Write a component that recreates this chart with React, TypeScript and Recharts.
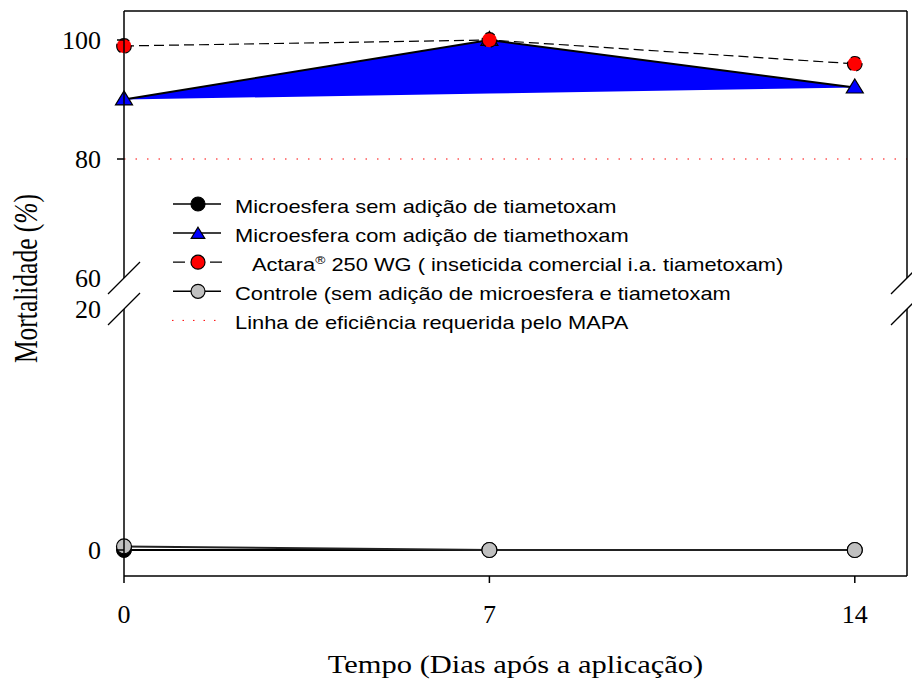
import React from 'react';
import { ComposedChart, Line, Area, XAxis, YAxis, ReferenceLine, Legend } from 'recharts';

// dados (mortalidade %, dias após aplicação)
const dias = [0, 7, 14];
const semAdicao = [0, 0, 0];
const comAdicao = [90, 100, 92];
const actara = [99, 100, 96];
const controle = [0.3, 0, 0];
const baseAzul = [90, 91, 92]; // borda de baixo do preenchimento azul
const linhaMapa = 80;

const xTicks = [0, 7, 14];
const yTicks = [0, 20, 60, 80, 100];
const yTicksComTraco = [0, 80, 100];

// eixo y quebrado: 0-20 embaixo, 60-105 em cima
const K_BAIXO = 12.05;
const K_CIMA = 5.95;
const U_60 = 272;
const toU = (v: number) => (v <= 20 ? v * K_BAIXO : U_60 + (v - 60) * K_CIMA);
const Y_MIN = -26;
const Y_MAX = 539;

const W = 912;
const H = 684;
const LEFT = 124;
const RIGHT = 907;
const TOP = 11;
const BOTTOM = 576;
const yPx = (v: number) => TOP + ((Y_MAX - toU(v)) * (BOTTOM - TOP)) / (Y_MAX - Y_MIN);

const table = dias.map((dia, i) => ({
  dia,
  sem: toU(semAdicao[i]),
  com: toU(comAdicao[i]),
  act: toU(actara[i]),
  ctrl: toU(controle[i]),
  faixa: [toU(baseAzul[i]), toU(comAdicao[i])],
}));

const SERIF = '"Liberation Serif", "Times New Roman", serif';
const SANS = '"Liberation Sans", Arial, sans-serif';

const triangulo = (cx: number, cy: number, s = 1) =>
  `${cx},${cy - 8.6 * s} ${cx + 8.5 * s},${cy + 5.4 * s} ${cx - 8.5 * s},${cy + 5.4 * s}`;

const renderTriangulo = (props: any) => (
  <polygon
    key={`tri-${props.index}`}
    points={triangulo(props.cx, props.cy)}
    fill="#0000ff"
    stroke="#000"
    strokeWidth={1.2}
  />
);

const YTick = (props: any) => {
  const { y, payload } = props;
  const v = yTicks.find((t) => Math.abs(toU(t) - payload.value) < 0.01) ?? 0;
  return (
    <g>
      {yTicksComTraco.includes(v) && <line x1={LEFT - 7} x2={LEFT} y1={y} y2={y} stroke="#000" strokeWidth={1.5} />}
      <text x={LEFT - 23} y={y} dy="0.355em" textAnchor="end" fontSize={26} fontFamily={SERIF} fill="#000">
        {v}
      </text>
    </g>
  );
};

const TituloX = (props: any) => {
  const vb = props.viewBox;
  return (
    <text
      transform={`translate(${vb.x + vb.width / 2}, 673) scale(1.22, 1)`}
      textAnchor="middle"
      fontSize={25}
      fontFamily={SERIF}
      fill="#000"
    >
      Tempo (Dias após a aplicação)
    </text>
  );
};

const TituloY = () => (
  <text
    transform={`translate(37, ${(TOP + BOTTOM) / 2 - 15}) rotate(-90) scale(1, 1.35)`}
    textAnchor="middle"
    fontSize={25.5}
    fontFamily={SERIF}
    fill="#000"
  >
    Mortalidade (<tspan fontStyle="italic">%</tspan>)
  </text>
);

const legendItems = [
  { label: 'Microesfera sem adição de tiametoxam', tipo: 'circulo', fill: '#000' },
  { label: 'Microesfera com adição de tiamethoxam', tipo: 'triangulo', fill: '#0000ff' },
  { label: 'Actara', tipo: 'tracejado', fill: '#ff0000' },
  { label: 'Controle (sem adição de microesfera e tiametoxam', tipo: 'circulo', fill: '#c0c0c0' },
  { label: 'Linha de eficiência requerida pelo MAPA', tipo: 'pontilhado', fill: '#ff0000' },
];

const renderLegend = () => (
  <svg width={680} height={160}>
    {legendItems.map((item, i) => {
      const cy = 19 + i * 29.1;
      const base = cy + 9;
      return (
        <g key={item.label}>
          {item.tipo === 'pontilhado' ? (
            <line x1={12} x2={60} y1={cy} y2={cy} stroke="#ff0000" strokeWidth={1} strokeDasharray="1.5 9" />
          ) : item.tipo === 'tracejado' ? (
            <line x1={13} x2={62} y1={cy} y2={cy} stroke="#000" strokeWidth={1.2} strokeDasharray="12 25 12" />
          ) : (
            <line x1={13} x2={61} y1={cy} y2={cy} stroke="#000" strokeWidth={1.5} />
          )}
          {item.tipo === 'triangulo' && (
            <polygon points={triangulo(38, cy + 1, 0.8)} fill={item.fill} stroke="#000" strokeWidth={1.2} />
          )}
          {(item.tipo === 'circulo' || item.tipo === 'tracejado') && (
            <circle cx={38} cy={cy} r={7} fill={item.fill} stroke="#000" strokeWidth={1.2} />
          )}
          {item.tipo === 'tracejado' ? (
            <text transform={`translate(92, ${base}) scale(1.25, 1)`} fontSize={17.5} fontFamily={SANS} fill="#000">
              Actara<tspan fontSize={11} dy={-7}>®</tspan>
              <tspan dy={7}> 250 WG ( inseticida comercial i.a. tiametoxam)</tspan>
            </text>
          ) : (
            <text transform={`translate(75, ${base}) scale(1.25, 1)`} fontSize={17.5} fontFamily={SANS} fill="#000">
              {item.label}
            </text>
          )}
        </g>
      );
    })}
  </svg>
);

const Moldura = () => {
  const y60 = yPx(60);
  const y20 = yPx(20);
  const barra = (cx: number, cy: number, k: string) => (
    <line key={k} x1={cx - 16} y1={cy + 16} x2={cx + 16} y2={cy - 16} stroke="#000" strokeWidth={1.3} />
  );
  return (
    <svg width={W} height={H} style={{ position: 'absolute', left: 0, top: 0, pointerEvents: 'none' }}>
      <line x1={LEFT} x2={RIGHT} y1={TOP} y2={TOP} stroke="#000" strokeWidth={1.5} />
      <line x1={LEFT} x2={LEFT} y1={TOP} y2={y60} stroke="#000" strokeWidth={1.5} />
      <line x1={LEFT} x2={LEFT} y1={y20} y2={BOTTOM} stroke="#000" strokeWidth={1.5} />
      <line x1={RIGHT} x2={RIGHT} y1={TOP} y2={y60} stroke="#000" strokeWidth={1.5} />
      <line x1={RIGHT} x2={RIGHT} y1={y20} y2={BOTTOM} stroke="#000" strokeWidth={1.5} />
      {barra(LEFT, y60, 'l60')}
      {barra(LEFT, y20, 'l20')}
      {barra(RIGHT, y60, 'r60')}
      {barra(RIGHT, y20, 'r20')}
      <TituloY />
    </svg>
  );
};

export default function App() {
  return (
    <div style={{ position: 'absolute', left: 0, top: 0, width: W, height: H, background: '#fff' }}>
      <ComposedChart
        width={W}
        height={H}
        data={table}
        margin={{ top: TOP, right: W - RIGHT, bottom: H - BOTTOM - 30, left: LEFT - 60 }}
      >
        <XAxis
          dataKey="dia"
          type="number"
          domain={[0, 15]}
          ticks={xTicks}
          height={30}
          stroke="#000"
          axisLine={{ stroke: '#000', strokeWidth: 1.5 }}
          tickLine={{ stroke: '#000', strokeWidth: 1.5 }}
          tickSize={7}
          tickMargin={22}
          tick={{ fontSize: 26, fontFamily: SERIF, fill: '#000' }}
          label={(p: any) => <TituloX {...p} />}
        />
        <YAxis
          type="number"
          domain={[Y_MIN, Y_MAX]}
          ticks={yTicks.map(toU)}
          width={60}
          axisLine={false}
          tickLine={false}
          tick={<YTick />}
          interval={0}
        />
        <Area
          type="linear"
          dataKey="faixa"
          stroke="none"
          fill="#0000ff"
          fillOpacity={1}
          dot={false}
          activeDot={false}
          isAnimationActive={false}
        />
        <ReferenceLine y={toU(linhaMapa)} stroke="#ff0000" strokeWidth={1} strokeDasharray="1.5 10" />
        <Line
          type="linear"
          dataKey="com"
          stroke="#000"
          strokeWidth={2}
          dot={renderTriangulo}
          activeDot={false}
          isAnimationActive={false}
        />
        <Line
          type="linear"
          dataKey="act"
          stroke="#000"
          strokeWidth={1.2}
          strokeDasharray="10 5"
          dot={{ r: 7.3, fill: '#ff0000', stroke: '#000', strokeWidth: 1.2 }}
          activeDot={false}
          isAnimationActive={false}
        />
        <Line
          type="linear"
          dataKey="sem"
          stroke="#000"
          strokeWidth={2}
          dot={{ r: 7.5, fill: '#000', stroke: '#000', strokeWidth: 1 }}
          activeDot={false}
          isAnimationActive={false}
        />
        <Line
          type="linear"
          dataKey="ctrl"
          stroke="#222"
          strokeWidth={2}
          dot={{ r: 7.5, fill: '#c0c0c0', stroke: '#000', strokeWidth: 1.2 }}
          activeDot={false}
          isAnimationActive={false}
        />
        <Legend
          verticalAlign="middle"
          align="center"
          content={renderLegend}
          wrapperStyle={{ left: 160, top: 185, width: 680, height: 160 }}
        />
      </ComposedChart>
      <Moldura />
    </div>
  );
}
